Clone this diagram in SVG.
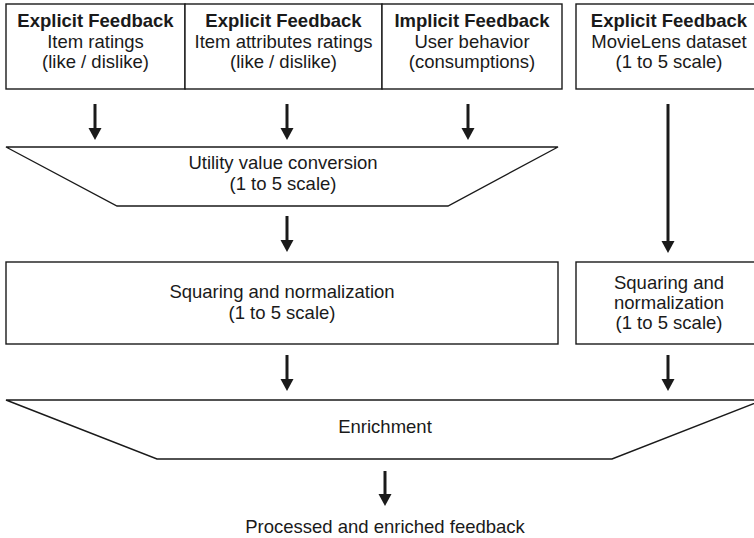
<svg xmlns="http://www.w3.org/2000/svg" width="754" height="538" viewBox="0 0 754 538">
<style>
.box{fill:#fff;stroke:#1a1a1a;stroke-width:1.4}
.t{font-family:"Liberation Sans",Arial,sans-serif;font-size:18.5px;fill:#1a1a1a;text-anchor:middle}
.b{font-weight:bold}
.arr{stroke:#1a1a1a;stroke-width:3;fill:none;marker-end:url(#ah)}
</style>
<defs>
<marker id="ah" markerUnits="userSpaceOnUse" viewBox="0 -7 12 14" markerWidth="12" markerHeight="14" refX="0" refY="0" orient="auto">
<path d="M0,-6.5 L12,0 L0,6.5 z" fill="#1a1a1a"/>
</marker>
</defs>
<rect width="754" height="538" fill="#fff"/>
<g id="src-item-ratings">
<rect class="box" x="6" y="4" width="179" height="85"/>
<text class="t b" x="95.5" y="27">Explicit Feedback</text>
<text class="t" x="95.5" y="48">Item ratings</text>
<text class="t" x="95.5" y="68">(like / dislike)</text>
</g>
<g id="src-attr-ratings">
<rect class="box" x="185" y="4" width="197" height="85"/>
<text class="t b" x="283.5" y="27">Explicit Feedback</text>
<text class="t" x="283.5" y="48">Item attributes ratings</text>
<text class="t" x="283.5" y="68">(like / dislike)</text>
</g>
<g id="src-behavior">
<rect class="box" x="382" y="4" width="180" height="85"/>
<text class="t b" x="472" y="27">Implicit Feedback</text>
<text class="t" x="472" y="48">User behavior</text>
<text class="t" x="472" y="68">(consumptions)</text>
</g>
<g id="src-movielens">
<rect class="box" x="576" y="4" width="186" height="85"/>
<text class="t b" x="669" y="27">Explicit Feedback</text>
<text class="t" x="669" y="48">MovieLens dataset</text>
<text class="t" x="669" y="68">(1 to 5 scale)</text>
</g>
<g id="utility-conversion">
<polygon class="box" points="6,147 558,147 448,206 117,206"/>
<text class="t" x="283" y="169">Utility value conversion</text>
<text class="t" x="283" y="190">(1 to 5 scale)</text>
</g>
<g id="squaring-left">
<rect class="box" x="6" y="262" width="552" height="82"/>
<text class="t" x="282" y="298">Squaring and normalization</text>
<text class="t" x="282" y="319">(1 to 5 scale)</text>
</g>
<g id="squaring-right">
<rect class="box" x="576" y="262" width="186" height="82"/>
<text class="t" x="669" y="289">Squaring and</text>
<text class="t" x="669" y="309">normalization</text>
<text class="t" x="669" y="329">(1 to 5 scale)</text>
</g>
<g id="enrichment">
<polygon class="box" points="6,400 763,400 612,459 157,459"/>
<text class="t" x="385" y="433">Enrichment</text>
</g>
<g id="output">
<text class="t" x="385" y="533">Processed and enriched feedback</text>
</g>
<g id="connectors">
<line class="arr" x1="95" y1="104" x2="95" y2="128"/>
<line class="arr" x1="287" y1="104" x2="287" y2="128"/>
<line class="arr" x1="468" y1="104" x2="468" y2="128"/>
<line class="arr" x1="668" y1="104" x2="668" y2="241"/>
<line class="arr" x1="287" y1="216" x2="287" y2="240"/>
<line class="arr" x1="287" y1="355" x2="287" y2="379"/>
<line class="arr" x1="668" y1="355" x2="668" y2="379"/>
<line class="arr" x1="385" y1="471" x2="385" y2="494"/>
</g>
</svg>
